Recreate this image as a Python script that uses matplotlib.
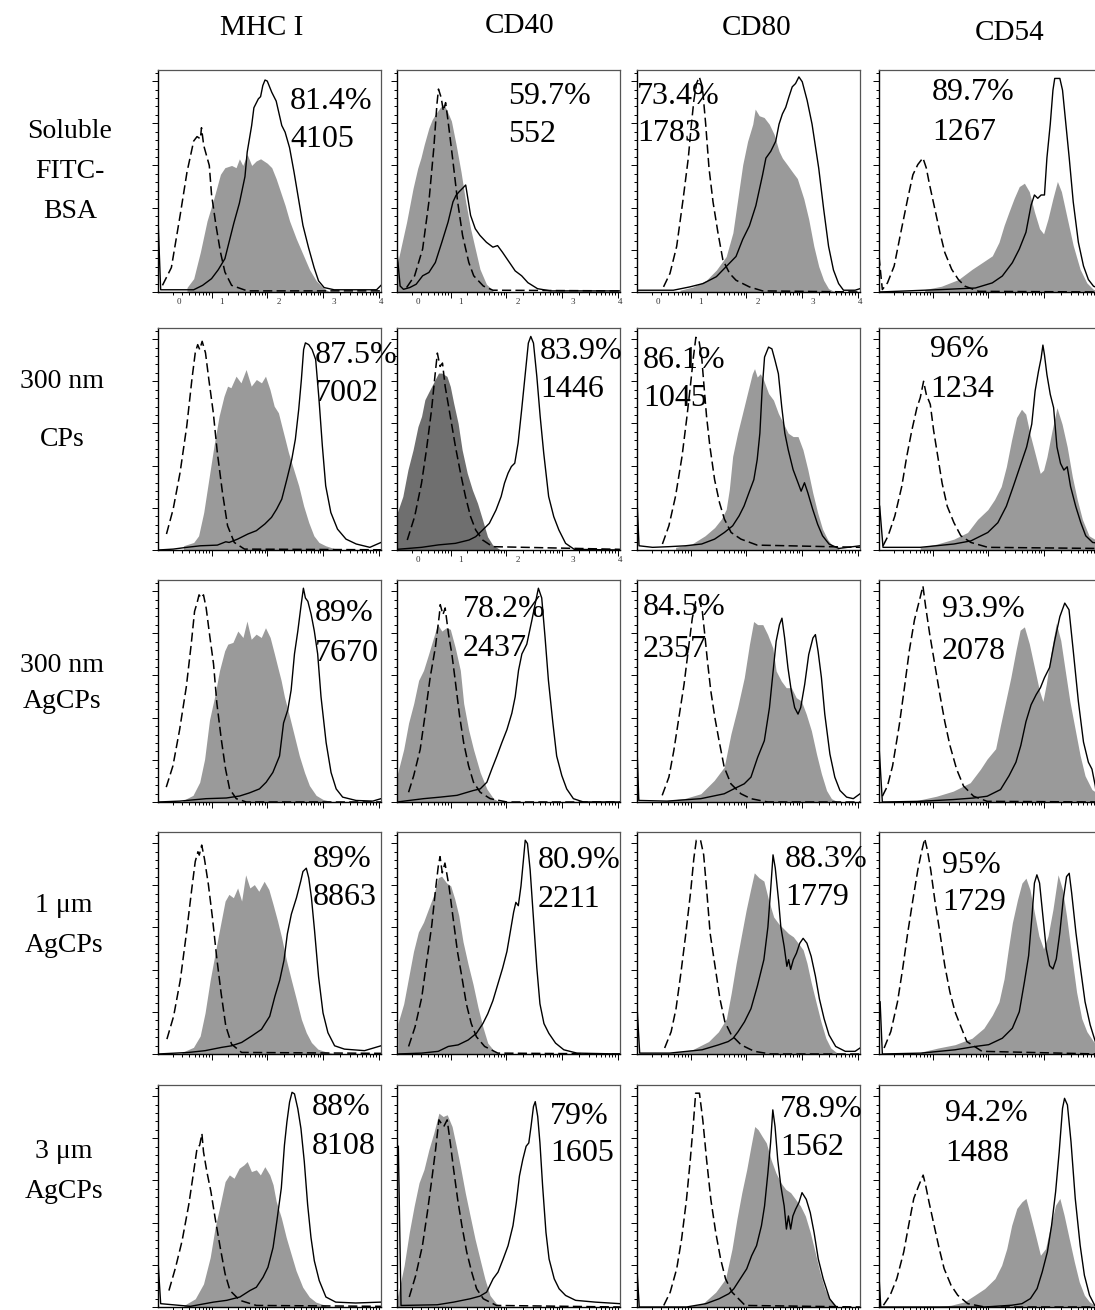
import numpy as np
import matplotlib
matplotlib.use('Agg')
import matplotlib.pyplot as plt
from matplotlib.ticker import MultipleLocator, FixedLocator

plt.rcParams['font.family'] = ['Liberation Serif', 'DejaVu Serif']

# 列标题 / 行标题
markers = ['MHC I', 'CD40', 'CD80', 'CD54']
groups = [['Soluble', 'FITC-', 'BSA'], ['300 nm', 'CPs'], ['300 nm', 'AgCPs'],
          ['1 μm', 'AgCPs'], ['3 μm', 'AgCPs']]

# 阳性百分比 / MFI
pct = [['81.4%', '59.7%', '73.4%', '89.7%'],
       ['87.5%', '83.9%', '86.1%', '96%'],
       ['89%', '78.2%', '84.5%', '93.9%'],
       ['89%', '80.9%', '88.3%', '95%'],
       ['88%', '79%', '78.9%', '94.2%']]
mfi = [['4105', '552', '1783', '1267'],
       ['7002', '1446', '1045', '1234'],
       ['7670', '2437', '2357', '2078'],
       ['8863', '2211', '1779', '1729'],
       ['8108', '1605', '1562', '1488']]

# 直方图数据: x = 荧光强度(面板宽度 %), y = 细胞数(面板高度 %)
# iso = 同型对照(虚线), ctl = 未处理(灰色填充), trt = 处理组(实线)

# --- Soluble FITC-BSA ---
sol_mhc_iso_x = [2, 6, 10, 13, 16, 17.5, 19, 19.5, 20.5, 23, 24, 26, 28, 30, 33, 40, 100]
sol_mhc_iso_y = [3, 11, 35, 54, 68, 70, 69, 74, 66, 57, 44, 30, 18, 9, 3, 0.5, 0.5]
sol_mhc_ctl_x = [13, 16, 19, 22, 25, 28, 30, 33, 35, 36.5, 38, 40, 42, 44, 46, 49, 51, 53, 55, 57, 59, 62, 65, 68, 71, 74, 77]
sol_mhc_ctl_y = [2, 6, 18, 32, 42, 53, 56, 57, 56, 60, 57, 62, 57, 59, 60, 58, 56, 51, 45, 39, 32, 24, 17, 10, 5, 2, 0]
sol_mhc_trt_x = [0, 1.2, 16, 20, 24, 27, 30, 32, 34, 36.5, 39, 40, 42, 43, 45, 46, 47, 48, 49, 51, 53, 55.5, 57, 59, 61, 63, 65, 67.5, 70, 72, 74.5, 79, 98, 100]
sol_mhc_trt_y = [33, 1, 1, 3, 6, 10, 15, 23, 31, 40, 52, 63, 75, 83, 87, 88, 93, 95.5, 95, 90, 86, 75, 72, 65, 54, 42, 30, 20, 11, 5, 2, 1, 1, 3]

sol_cd40_iso_x = [4.3, 7.9, 11.5, 14.3, 16.5, 17.9, 18.6, 19.8, 20.8, 21.8, 22.9, 25.1, 27.2, 29.4, 32.2, 34.4, 38.7, 43, 100]
sol_cd40_iso_y = [2, 7.3, 19.4, 40.6, 64.8, 84.5, 91.4, 87.6, 81.5, 85.3, 77, 58.8, 40.6, 25.5, 13.3, 7.3, 2.7, 0.8, 0.5]
sol_cd40_ctl_x = [0.3, 4.3, 7.2, 9.3, 10.7, 12.2, 14.3, 15.8, 17.2, 19.3, 20.8, 22.2, 24.4, 26.5, 28.7, 30.8, 33, 35.1, 37.2, 40.1, 43]
sol_cd40_ctl_y = [13.3, 31.5, 46.7, 55.8, 60.3, 66.4, 73.9, 77.7, 80, 83, 84.5, 82.3, 77, 66.4, 54.2, 40.6, 28.5, 19.4, 10.3, 3.5, 0.8]
sol_cd40_trt_x = [0, 1.4, 2.9, 5.7, 8.6, 11.5, 14.3, 17.2, 20.1, 22.9, 25.1, 26.5, 27.9, 29.4, 30.8, 33, 35.1, 37.2, 40.1, 43, 45.1, 47.3, 49.4, 50.9, 53, 55.9, 58.7, 63, 68.8, 100]
sol_cd40_trt_y = [17.9, 2.7, 1.2, 2, 3.5, 7.3, 8.8, 13.3, 22.4, 31.5, 40.6, 43.6, 45.2, 46.7, 48.2, 34.5, 28.5, 25.5, 22.4, 20.2, 20.9, 17.9, 14.8, 12.6, 9.5, 7.3, 4.2, 1.5, 0.5, 0.5]

sol_cd80_iso_x = [11.9, 14.8, 17.8, 20.7, 23, 24.4, 25.5, 26.7, 27.9, 28.9, 29.6, 30.8, 32.3, 34.1, 36.3, 38.5, 41.5, 44.4, 50.4, 56.3, 100]
sol_cd80_iso_y = [2.3, 8.4, 20.6, 42, 60.3, 75.6, 86.3, 93.9, 96.9, 93.9, 89.3, 75.6, 55.7, 40.5, 26.7, 14.5, 8.4, 5.3, 2.3, 0.5, 0]
sol_cd80_ctl_x = [19.3, 25.2, 31.1, 35.6, 40, 43, 45.2, 47.4, 49.6, 51.9, 53, 54.8, 57, 59.3, 61.5, 63.7, 65.2, 67.4, 69.6, 71.9, 74.8, 77, 79.3, 81.5, 83.7, 85.9, 88.9]
sol_cd80_ctl_y = [0.8, 2.3, 5.3, 9.9, 16, 26.7, 42, 57.3, 67.9, 75.6, 82.4, 79.4, 78.6, 75.6, 71, 63.4, 60.3, 57.3, 54.2, 51.1, 42, 32.8, 20.6, 11.5, 5.3, 1.5, 0]
sol_cd80_trt_x = [0, 16.3, 23.7, 29.6, 35.6, 38.5, 41.5, 44.4, 47.4, 50.4, 53.3, 56.3, 57.8, 60, 62.2, 63.7, 65.2, 66.7, 68.1, 69.6, 71.1, 72.6, 74.1, 76.3, 78.5, 81.5, 83.7, 85.9, 88.1, 90.4, 92.6, 97.8, 100]
sol_cd80_trt_y = [0.8, 0.8, 2.3, 3.8, 6.9, 9.9, 13, 16, 23.7, 29.8, 38.9, 52.7, 60.3, 63.4, 67.9, 75.6, 80.2, 83.2, 87.8, 92.4, 93.9, 96.9, 94.7, 86.3, 75.6, 55.7, 37.4, 20.6, 9.9, 3.8, 0.8, 0.8, 1.5]

sol_cd54_iso_x = [0, 1.5, 3.8, 6.8, 9.8, 12.9, 15.2, 17.4, 19.7, 21.2, 22.7, 25, 27.3, 29.5, 32.6, 35.6, 38.6, 44.7, 100]
sol_cd54_iso_y = [16, 1.1, 4.1, 11.7, 26.9, 42.2, 52.8, 57.4, 60.4, 55.9, 48.2, 37.6, 26.9, 17.8, 10.2, 5.6, 2.6, 0.3, 0]
sol_cd54_ctl_x = [20.5, 28, 35.6, 41.7, 46.2, 50.8, 53.8, 56.1, 58.3, 60.6, 62.9, 65.2, 67.4, 69.7, 72, 73.8, 75.8, 78, 80, 81.8, 84.1, 87.1, 90.2, 93.2, 96.2, 100]
sol_cd54_ctl_y = [1.1, 2.6, 5.6, 10.2, 13.2, 16.3, 22.4, 30, 36.1, 42.2, 47.5, 49, 45.2, 36.1, 28.5, 26.2, 33, 42.2, 49.8, 45.2, 34.6, 20.9, 10.2, 4.1, 1.1, 0.8]
sol_cd54_trt_x = [0, 28, 43.2, 50.8, 55.3, 59.8, 62.9, 65.9, 68.2, 69.7, 71.2, 72.7, 74.2, 75.3, 76.8, 78, 78.8, 81.1, 82.3, 83.8, 85.3, 87.1, 89.4, 91.7, 93.9, 96.2, 100]
sol_cd54_trt_y = [0, 1.1, 1.8, 4.1, 7.2, 13.2, 19.3, 26.9, 39.1, 43.7, 42.2, 43.7, 43.7, 60.4, 75.6, 90.9, 96.2, 96.2, 90.9, 75.6, 60.4, 40.6, 22.4, 11.7, 5.6, 2.6, 1.1]

# --- 300 nm CPs ---
cp300_mhc_iso_x = [3.8, 6.8, 9.9, 12.9, 15.2, 16.7, 17.8, 18.7, 19.8, 21.3, 22.8, 24.8, 26.6, 28.9, 31.2, 34.2, 38.8, 100]
cp300_mhc_iso_y = [7.2, 18.4, 34.9, 55.8, 76.8, 88.8, 92.5, 90.3, 94, 88.8, 76.8, 61.8, 43.9, 25.9, 10.9, 3.4, 0.4, 0.1]
cp300_mhc_ctl_x = [11.4, 16, 18.2, 20.5, 22.8, 25.1, 27.4, 29.6, 31.2, 32.7, 35, 37.2, 39.5, 41.8, 44.1, 46.4, 48.2, 50.2, 52.1, 54, 55.5, 57, 58.5, 60.8, 63.1, 65.3, 67.6, 69.9, 72.2, 75.2, 79.8]
cp300_mhc_ctl_y = [1.9, 3.4, 6.4, 16.9, 31.9, 46.9, 60.3, 69.3, 73.8, 73.1, 78.3, 75.3, 81.3, 73.8, 76.8, 75.3, 78.3, 72.3, 64.8, 61.8, 55.8, 49.9, 43.9, 36.4, 28.9, 19.9, 12.4, 6.4, 3.4, 1.9, 0.4]
cp300_mhc_trt_x = [0, 6.8, 12.9, 19, 26.6, 30.4, 31.9, 35.7, 40.3, 44.1, 47.9, 50.9, 53.2, 55.5, 57.8, 60, 61.6, 63.1, 64.3, 65.3, 66.1, 67.6, 69.1, 70.7, 72.2, 73.7, 75.2, 77.5, 80.5, 84.3, 88.9, 95, 100]
cp300_mhc_trt_y = [0, 0.4, 1.2, 1.9, 2.2, 3.7, 3.4, 4.9, 7.2, 8.7, 11.7, 14.7, 18.4, 22.9, 31.9, 40.9, 49.9, 63.3, 76.8, 90.3, 93.3, 92.5, 90.3, 85.8, 67.8, 46.9, 28.9, 16.9, 9.4, 4.9, 2.7, 1.2, 3.4]

cp300_cd40_iso_x = [4.6, 7.9, 11, 13.2, 15.5, 17, 18.1, 19.3, 20.4, 21.6, 23.9, 26.2, 28.5, 30.7, 33, 35.3, 38.4, 42.9, 100]
cp300_cd40_iso_y = [4.5, 15, 30.1, 45.1, 63.2, 78.2, 88.7, 82.7, 84.2, 73.7, 60.2, 46.6, 34.6, 24.1, 15, 9, 4.5, 1.5, 0.3]
cp300_cd40_ctl_x = [0, 2.6, 4.9, 7.2, 9.4, 11, 12.5, 14, 16.3, 18.6, 20.1, 22.4, 23.9, 25.4, 27.4, 29.2, 31.5, 33.8, 36.1, 38.4, 40.6, 42.9, 46]
cp300_cd40_ctl_y = [16.5, 24.1, 36.1, 45.1, 55.6, 60.2, 67.7, 70.7, 75.2, 79.7, 79.7, 78.2, 73.7, 66.2, 57.1, 45.1, 34.6, 27.1, 21.1, 13.5, 6, 2.3, 0.3]
cp300_cd40_trt_x = [0, 11, 18.6, 26.2, 32.3, 35.3, 38.4, 41.4, 44.4, 46.7, 48.2, 49.8, 51.3, 52.8, 54.3, 55.9, 57.4, 58.9, 60, 61.2, 62.7, 64.2, 65.8, 68, 70.3, 72.6, 75.6, 79.5, 100]
cp300_cd40_trt_y = [0.3, 1.2, 2.3, 3, 4.5, 6, 9, 12, 18, 24.1, 30.1, 34.6, 37.6, 39.1, 48.1, 63.2, 78.2, 93.2, 96.2, 93.2, 78.2, 60.2, 43.6, 24.1, 15, 9, 3, 0.3, 0]

cp300_cd80_iso_x = [11.4, 14.3, 17.3, 20.2, 22.4, 23.9, 25.3, 26.4, 27.8, 29, 30.2, 31.2, 32.7, 34.8, 37, 39.2, 42.2, 46.6, 53.9, 100]
cp300_cd80_iso_y = [2.7, 10.9, 24.3, 42.2, 60.1, 73.5, 86.9, 95.8, 94.3, 86.9, 72, 60.1, 46.6, 31.7, 21.3, 13.9, 7.9, 4.9, 2.2, 1.2]
cp300_cd80_ctl_x = [17.3, 24.6, 30.5, 34.8, 37.8, 40, 41.4, 42.9, 45.1, 47.3, 49.5, 51.7, 52.7, 53.9, 55.3, 56.8, 59, 61.2, 63.4, 65.6, 67.8, 70, 72.2, 74.4, 76.6, 78.8, 81, 83.2, 85.4, 87.6, 90.5]
cp300_cd80_ctl_y = [1.2, 2.7, 6.4, 10.1, 13.9, 18.3, 27.3, 42.2, 52.6, 61.5, 70.5, 79.4, 81.7, 77.9, 79.4, 76.5, 70.5, 67.5, 61.5, 57.1, 52.6, 51.1, 51.1, 45.2, 36.2, 25.8, 16.8, 9.4, 4.9, 1.9, 0.7]
cp300_cd80_trt_x = [0, 0.9, 7, 14.3, 21.7, 29, 34.8, 39.2, 42.9, 45.8, 48, 50.2, 52.4, 53.9, 55.1, 56.1, 57.2, 59, 60.5, 61.9, 63.4, 64.9, 66.3, 67.8, 70, 72.2, 73.6, 75.1, 76.6, 78.8, 81, 83.2, 86.1, 90.5, 100]
cp300_cd80_trt_y = [22.8, 1.9, 1.2, 1.5, 1.9, 2.7, 4.9, 7.9, 10.9, 15.4, 19.8, 25.8, 31.7, 40.7, 52.6, 72, 86.9, 91.4, 90.6, 85.4, 79.4, 64.5, 52.6, 45.2, 36.2, 30.3, 26.5, 30.3, 25.8, 18.3, 11.6, 6.4, 2.7, 0.7, 1.9]

cp300_cd54_iso_x = [1.8, 4.1, 7.1, 10.2, 12.4, 14.7, 17, 18.5, 20, 21.2, 23, 24.5, 26.4, 28.3, 30.6, 33.6, 36.7, 41.2, 48.8, 98]
cp300_cd54_iso_y = [1.9, 6.4, 15.3, 28.6, 41.9, 53.8, 64.1, 68.6, 76, 70.1, 65.6, 53.8, 41.9, 30.1, 19.7, 12.3, 6.4, 3.4, 1.2, 0.7]
cp300_cd54_ctl_x = [18.5, 26.1, 33.6, 39.7, 44.2, 48.8, 51.8, 54.8, 57.1, 59.4, 61.7, 63.9, 65.8, 67.7, 70, 72.3, 73.8, 75.3, 77.6, 79.8, 82.1, 84.4, 86.7, 88.9, 91.2, 94.2, 98]
cp300_cd54_ctl_y = [1.2, 2.7, 4.9, 7.9, 13.8, 18.2, 22.7, 28.6, 37.5, 49.3, 59.7, 63.4, 61.2, 52.3, 43.4, 34.5, 36, 41.9, 53.8, 64.1, 56.7, 46.4, 33, 22.7, 13.8, 6.4, 4.1]
cp300_cd54_trt_x = [0.3, 1.8, 18.5, 33.6, 41.2, 45.8, 48.8, 53.3, 57.1, 60.2, 63.2, 66.2, 68.5, 70, 71.5, 72.7, 73.5, 74.2, 75.3, 76.8, 78.3, 79.8, 81.4, 82.9, 84.4, 85.9, 88.2, 90.5, 92.7, 95.8, 98]
cp300_cd54_trt_y = [19.7, 1.2, 1.2, 2.7, 4.1, 6.4, 7.9, 12.3, 19.7, 28.6, 37.5, 46.4, 56.7, 71.6, 80.4, 86.4, 92.3, 87.9, 79, 70.1, 64.1, 46.4, 39, 36, 37.5, 28.6, 19.7, 12.3, 6.4, 3.4, 3.1]

# --- 300 nm AgCPs ---
ag300_mhc_iso_x = [3.7, 6.7, 9.7, 12.7, 14.9, 16.4, 17.5, 18.4, 19.4, 20.4, 21.6, 23.1, 24.9, 26.4, 28.4, 30.3, 32.1, 35.1, 39.6, 100]
ag300_mhc_iso_y = [6.7, 16.3, 32.6, 51.9, 71.1, 85.9, 89.6, 93.3, 91.9, 93.3, 87.4, 75.6, 62.2, 44.4, 28.1, 14.8, 5.9, 1.5, 0, 0]
ag300_mhc_ctl_x = [11.2, 15.7, 18.7, 20.9, 23.1, 25.4, 27.6, 29.9, 31.3, 33.6, 35.8, 38.1, 39.9, 41.8, 44, 46.3, 48.2, 50.3, 52.2, 53.7, 55.2, 56.7, 59, 61.2, 63.4, 65.7, 67.9, 70.9, 73.9, 78.4]
ag300_mhc_ctl_y = [0.7, 3, 8.9, 19.3, 37, 47.4, 59.3, 68.1, 71.1, 71.9, 77, 74.1, 81.5, 73.3, 75.6, 74.1, 78.5, 74.1, 66.7, 60.7, 54.8, 47.4, 38.5, 29.6, 20.7, 13.3, 7.4, 3, 1.2, 0]
ag300_mhc_trt_x = [0, 9.7, 21.6, 30.6, 36.6, 41, 45.5, 48.5, 51.5, 54.5, 56.3, 58.2, 59.7, 61.2, 62.7, 64.2, 65.2, 66.1, 67.2, 68.7, 70.1, 71.6, 73.1, 75.4, 77.6, 79.9, 82.8, 88.8, 96.3, 100]
ag300_mhc_trt_y = [0, 0.4, 1.5, 1.8, 2.7, 4.1, 5.9, 8.9, 13.3, 20.7, 35.6, 41.5, 50.4, 66.7, 77, 88.9, 96.3, 91.9, 90.4, 84.4, 77, 66.7, 47.4, 26.7, 13.3, 5.9, 2.2, 0.7, 0.4, 1.5]

ag300_cd40_iso_x = [5.2, 7.5, 10.4, 12.7, 14.9, 17.2, 19, 19.4, 20.6, 21.6, 23.1, 24.6, 26.1, 28.1, 29.9, 32.1, 34.3, 37.3, 41.8, 49.3, 100]
ag300_cd40_iso_y = [4.4, 11.9, 23.7, 40, 56.3, 69.6, 84.4, 88.9, 84.4, 87.4, 75.6, 66.7, 54.8, 38.5, 26.7, 16.3, 8.9, 4.4, 1.5, 0, 0]
ag300_cd40_ctl_x = [0, 3, 5.2, 7.5, 9.7, 11.9, 14.2, 16.4, 18.2, 20.1, 22.1, 23.9, 26.1, 28.4, 29.9, 32.1, 34.3, 37.3, 40.3, 43.3, 46.3]
ag300_cd40_ctl_y = [11.9, 23.7, 35.6, 44.4, 54.8, 59.3, 66.7, 74.1, 80, 77, 78.5, 77.8, 69.6, 59.3, 44.4, 32.6, 23.7, 13.3, 5.9, 1.5, 0]
ag300_cd40_trt_x = [0, 11.9, 19.4, 26.9, 34.3, 37.3, 40.3, 42.5, 44.8, 47, 49.3, 51.5, 53, 54.5, 56, 58.2, 60.4, 61.9, 63.4, 64.9, 66.4, 67.9, 69.9, 71.6, 73.9, 76.1, 79.1, 83.6, 100]
ag300_cd40_trt_y = [0, 1.5, 2.2, 3, 5.2, 5.9, 8.9, 14.8, 20.7, 26.7, 32.6, 40, 47.4, 59.3, 66.7, 71.1, 81.5, 88.9, 96.3, 91.9, 74.1, 54.8, 35.6, 20.7, 11.9, 5.9, 1.5, 0, 0]

ag300_cd80_iso_x = [11.3, 14.3, 16.5, 18.8, 21.1, 23.3, 24.8, 26.3, 27.8, 29.3, 30.4, 31.6, 33.1, 34.9, 36.8, 39.1, 42.1, 46.6, 51.1, 58.6, 100]
ag300_cd80_iso_y = [3, 11.2, 23.1, 38.1, 53, 70.9, 82.8, 90.3, 91.8, 85.8, 75.4, 63.4, 50, 38.1, 27.6, 15.7, 8.2, 3.7, 1.5, 0, 0]
ag300_cd80_ctl_x = [13.5, 21.1, 28.6, 34.6, 39.1, 42.1, 45.1, 48.1, 50.4, 52.3, 54.1, 56.4, 58.6, 60.9, 62.4, 64.7, 66.9, 69.2, 71.4, 73.7, 75.9, 78.2, 80.5, 82.7, 85, 87.2, 90.2]
ag300_cd80_ctl_y = [0.7, 1.5, 3.7, 9.7, 15.7, 30.6, 42.5, 56, 70.9, 81.3, 79.9, 79.9, 75.4, 69.4, 59, 54.5, 51.5, 51.5, 47, 45.5, 39.6, 32.1, 21.6, 12.7, 5.2, 1.5, 0]
ag300_cd80_trt_x = [0, 0.8, 13.5, 28.6, 39.1, 43.6, 48.1, 51.1, 54.1, 57.1, 59.4, 60.9, 62.4, 63.9, 65, 66.2, 67.7, 69.2, 70.7, 72.2, 73.4, 75.2, 77, 78.9, 80, 81.2, 82.7, 84.2, 86.5, 88.7, 91, 94, 97, 100]
ag300_cd80_trt_y = [24.6, 0.7, 0.4, 1.5, 3.7, 6, 8.2, 11.2, 20.1, 27.6, 42.5, 57.5, 72.4, 79.9, 82.8, 73.9, 60.4, 50, 42.5, 39.6, 42.5, 53, 66.4, 73.9, 75.4, 67.9, 56, 39.6, 21.6, 11.2, 5.2, 2.2, 1.5, 3.7]

ag300_cd54_iso_x = [1.5, 3.8, 6.1, 9.1, 11.4, 13.6, 15.9, 18.2, 19.7, 20.9, 22.7, 25, 27.3, 29.5, 31.8, 34.8, 37.9, 42.4, 48.5, 97.7]
ag300_cd54_iso_y = [2.6, 7.2, 16.3, 34.7, 51.5, 68.2, 82, 91.1, 97.3, 88.1, 75.9, 62.1, 48.4, 36.2, 25.5, 14.8, 7.2, 2.6, 0.3, 0]
ag300_cd54_ctl_x = [15.2, 25.8, 33.3, 40.9, 45.5, 48.5, 52.3, 54.5, 56.8, 59.1, 61.4, 63.3, 65.2, 67.4, 69.7, 72, 73.5, 75, 77.3, 79.5, 81.5, 83.3, 85.6, 87.9, 90.2, 92.4, 95.5, 97.7]
ag300_cd54_ctl_y = [0.3, 2.6, 4.9, 8.7, 14.8, 19.4, 24, 34.7, 45.3, 56, 68.2, 77.4, 78.9, 71.3, 60.6, 49.9, 45.3, 53, 68.2, 80.5, 72.8, 60.6, 45.3, 33.1, 20.9, 11.8, 5.6, 4.1]
ag300_cd54_trt_x = [0, 1.5, 18.2, 33.3, 42.4, 48.5, 54.5, 58.3, 61.4, 63.6, 65.9, 68.2, 70.5, 72.4, 74.2, 76.5, 78.8, 81.1, 83.3, 85.2, 87.1, 89.4, 91.7, 93.9, 95.5, 97, 97.7]
ag300_cd54_trt_y = [25.5, 0, 0.3, 1.1, 1.8, 2.6, 5.6, 11.8, 17.9, 25.5, 36.2, 43.8, 48.4, 51.5, 56, 60.6, 72.8, 83.5, 89.6, 86.6, 68.2, 45.3, 27, 17.9, 14.8, 7.2, 1.1]

# --- 1 μm AgCPs ---
ag1_mhc_iso_x = [4, 7, 10, 12.9, 15.2, 16.7, 17.9, 18.5, 19.6, 20.8, 22.6, 24.4, 26.3, 28.3, 30.4, 33, 37.5, 100]
ag1_mhc_iso_y = [6.7, 17, 33.3, 55.6, 74.8, 86.7, 91.1, 89.6, 94.1, 88.1, 76.3, 61.5, 43.7, 27.4, 12.6, 4.4, 0.7, 0.3]
ag1_mhc_ctl_x = [10.7, 15.9, 18.9, 21.1, 23.4, 25.6, 27.8, 30.1, 31.8, 33.8, 35.7, 37.5, 39.3, 41.2, 43.2, 45.2, 47.6, 49.7, 51.6, 53.6, 55.4, 57.6, 59.8, 62.1, 64.3, 66.5, 68.8, 71.7, 76.2, 80.7]
ag1_mhc_ctl_y = [0.7, 3, 8.1, 18.5, 33.3, 45.2, 57, 68.9, 71.9, 70.4, 74.8, 68.9, 80.7, 74.8, 76.3, 73.3, 77.8, 74.1, 67.4, 60, 52.6, 42.2, 33.3, 24.4, 15.6, 9.6, 5.2, 2.2, 0.7, 0]
ag1_mhc_trt_x = [0, 13.7, 21.1, 28.6, 33, 37.5, 42, 46.4, 50.1, 52.4, 54.6, 56.5, 58, 59.8, 62.1, 64, 65, 66.5, 67.6, 68.8, 70.2, 72, 74, 76.2, 79.2, 83.6, 92.6, 100]
ag1_mhc_trt_y = [0, 0.7, 1.5, 3, 3.7, 5.2, 8.1, 11.1, 17, 25.9, 33.3, 42.2, 54.1, 63, 70.4, 77.8, 82.2, 83.7, 79.3, 70.4, 55.6, 34.8, 18.5, 9.6, 3.7, 2.2, 1.5, 3.7]

ag1_cd40_iso_x = [5.2, 8.1, 11.1, 13.3, 15.6, 17.3, 18.5, 19.3, 20.3, 21.5, 23.3, 25.2, 27.1, 28.9, 31.1, 33.3, 35.6, 39.3, 45.2, 100]
ag1_cd40_iso_y = [3.4, 12.2, 25.5, 41.7, 58, 74.2, 84.5, 88.9, 81.6, 86, 75.7, 60.9, 46.2, 35.8, 22.6, 13.7, 7.8, 3.4, 0.4, 0]
ag1_cd40_ctl_x = [0.4, 3, 5.2, 7.4, 9.6, 11.9, 14.1, 16.3, 18.5, 20, 22.2, 24.1, 25.9, 27.7, 29.6, 31.9, 34.1, 36.3, 38.5, 40.7, 43.7, 46.7]
ag1_cd40_ctl_y = [13.7, 22.6, 34.4, 46.2, 55, 59.4, 65.3, 71.2, 79.4, 80.1, 77.1, 75.7, 69.8, 62.4, 50.6, 40.3, 31.4, 21.1, 12.2, 4.9, 1.2, 0]
ag1_cd40_trt_x = [0, 11.1, 18.5, 23, 27.4, 31.9, 35.6, 38.5, 40.7, 43, 45.2, 47.4, 49.3, 50.8, 52.3, 53.3, 54.4, 55.6, 56.7, 57.5, 58.5, 59.7, 61.2, 62.7, 64.1, 65.9, 68.1, 71.1, 74.8, 80.7, 100]
ag1_cd40_trt_y = [0, 0.4, 1.2, 3.4, 4.1, 6.3, 9.3, 13.7, 18.1, 24, 31.4, 38.8, 46.2, 55, 63.9, 68.3, 66.8, 75.7, 87.5, 96.3, 94.8, 83, 60.9, 38.8, 22.6, 13.7, 9.3, 4.9, 1.9, 0.4, 0]

ag1_cd80_iso_x = [12.4, 15.3, 17.5, 19.7, 21.9, 24.1, 25.5, 26.6, 28.5, 29.9, 31.4, 32.8, 35, 37.2, 39.4, 42.3, 46.7, 52.6, 59.9, 100]
ag1_cd80_iso_y = [2.7, 10, 20.4, 36.6, 54.3, 73.5, 88.2, 96.3, 96.3, 89.7, 72, 54.3, 39.5, 24.8, 14.5, 8.6, 4.1, 1.2, 0, 0]
ag1_cd80_ctl_x = [14.6, 24.8, 32.1, 36.5, 40.1, 42.3, 44.5, 46.7, 48.9, 50.8, 52.6, 54.7, 56.9, 59.1, 61.3, 63.5, 65.7, 67.9, 70.1, 72.3, 74.5, 76.2, 78.1, 80.3, 82.5, 84.7, 86.9, 89.8]
ag1_cd80_ctl_y = [0.4, 1.9, 5.6, 10, 15.9, 27.7, 41, 52.8, 64.6, 73.5, 81.6, 79.4, 77.9, 69, 61.7, 58.7, 56.5, 54.3, 52.8, 49.9, 46.9, 41, 32.2, 23.3, 14.5, 7.1, 2.7, 0.4]
ag1_cd80_trt_x = [0, 1.2, 14.6, 29.2, 36.5, 40.9, 43.1, 45.3, 48.2, 51.1, 54, 56.9, 58.7, 59.9, 61, 62, 63.5, 64.5, 66, 67.2, 68, 68.9, 70.1, 71.5, 73, 74.5, 76.2, 78.1, 80, 81.8, 83.9, 86.1, 89.1, 93.4, 97.8, 100]
ag1_cd80_trt_y = [21.8, 0.4, 0.4, 1.9, 4.1, 5.6, 7.1, 10, 14.5, 20.4, 30.7, 42.5, 57.2, 73.5, 89.7, 83.8, 69, 57.2, 48.4, 39.5, 42.5, 38.1, 42.5, 45.4, 49.9, 52.1, 49.9, 44, 35.1, 24.8, 15.9, 8.6, 3.4, 1.2, 1.2, 2.7]

ag1_cd54_iso_x = [2.3, 5.3, 8.3, 10.6, 12.9, 15.2, 17.4, 18.9, 20.5, 21.7, 23.2, 25, 27.3, 29.5, 31.8, 34.1, 36.4, 39.4, 46.2, 98.5]
ag1_cd54_iso_y = [2.7, 10.1, 23.5, 38.3, 54.7, 69.5, 82.9, 90.3, 97, 91.8, 82.9, 69.5, 54.7, 39.8, 27.9, 19, 13.1, 5.6, 1.2, 0]
ag1_cd54_ctl_x = [18.9, 26.5, 34.1, 41.7, 47, 50.8, 53.8, 56.1, 58, 59.8, 62.1, 64.1, 65.9, 67.7, 69.7, 71.7, 73.8, 75.8, 78, 80.3, 82.3, 84.1, 86.4, 88.6, 90.9, 93.2, 96.2, 98.5]
ag1_cd54_ctl_y = [0.9, 2.7, 4.2, 7.1, 11.6, 17.5, 23.5, 33.9, 47.3, 59.1, 69.5, 77, 79.2, 74, 63.6, 53.2, 47.3, 53.2, 65.1, 80.7, 74, 62.1, 44.3, 27.9, 16, 10.1, 5.6, 4.2]
ag1_cd54_trt_x = [0.5, 1.5, 18.9, 34.1, 43.2, 49.2, 55.3, 59.8, 62.9, 65.2, 67.1, 68.6, 69.7, 70.8, 72, 73.5, 75, 76.5, 78, 79.5, 81.1, 82.6, 84.1, 85.3, 86.4, 88.3, 90.2, 92.4, 94.7, 97, 98.5]
ag1_cd54_trt_y = [23.5, 0, 0.4, 1.9, 3.4, 4.2, 7.1, 11.6, 19, 32.4, 44.3, 62.1, 77, 80.7, 77, 62.1, 47.3, 39.8, 38.3, 42.8, 54.7, 69.5, 79.9, 81.4, 72.5, 54.7, 39.8, 23.5, 13.1, 5.6, 2.7]

# --- 3 μm AgCPs ---
ag3_mhc_iso_x = [4.9, 7.9, 10.8, 13.8, 16, 17.5, 18.7, 19.7, 20.4, 21.9, 23.7, 25.6, 27.9, 30.1, 32.3, 36.7, 44.1, 100]
ag3_mhc_iso_y = [7.4, 17.9, 29.8, 46.1, 61, 71.4, 72.9, 78.1, 69.9, 61, 52.1, 40.2, 26.8, 14.9, 7.4, 3, 0.7, 0.3]
ag3_mhc_ctl_x = [11.6, 16.7, 20.4, 23.4, 25.6, 27.9, 30.1, 32, 34.1, 36.4, 38.5, 40, 41.9, 44.1, 45.9, 47.9, 50.1, 51.6, 53, 55.3, 57.5, 59.7, 61.9, 64.9, 67.9, 70.8, 75.3]
ag3_mhc_ctl_y = [0.7, 3.7, 10.4, 22.3, 35.7, 46.1, 56.5, 59.5, 58, 62.5, 64, 65.5, 61, 61.8, 59.5, 63.2, 59.5, 55.1, 47.6, 40.2, 31.3, 23.8, 16.4, 8.9, 4.5, 2.2, 0.7]
ag3_mhc_trt_x = [0, 1.2, 14.5, 24.9, 30.8, 36.7, 41.2, 44.1, 47.1, 49.3, 51.6, 53.3, 55.3, 56.7, 57.8, 59, 60.1, 61.2, 62.7, 64.1, 65.6, 67.1, 68.6, 70.1, 72.3, 75.3, 79.7, 88.6, 100]
ag3_mhc_trt_y = [20.8, 1.5, 0.3, 2.2, 3, 4.5, 7.4, 8.9, 13.4, 17.9, 26.8, 38.7, 53.6, 72.9, 83.3, 92.3, 96.7, 96, 89.3, 80.4, 65.5, 46.1, 31.3, 20.8, 11.9, 4.5, 2.2, 1.8, 2.2]

ag3_cd40_iso_x = [5.5, 8.4, 11.4, 13.6, 15.8, 17.3, 18.8, 19.8, 21, 22.5, 23.9, 25.4, 27.2, 29.1, 31.3, 33.5, 35.7, 38.7, 44.6, 100]
ag3_cd40_iso_y = [4.5, 14.2, 27.6, 42.5, 59, 70.9, 84.3, 82.8, 81.3, 84.3, 73.9, 61.9, 48.5, 36.6, 24.6, 15.7, 8.2, 3.7, 0.7, 0]
ag3_cd40_ctl_x = [0, 1, 3.2, 5.5, 7.7, 9.9, 12.1, 14.3, 16.5, 18.8, 20.7, 22.5, 24.7, 26.6, 28.4, 30.6, 32.8, 35, 37.2, 39.4, 41.7, 44.6, 47.6]
ag3_cd40_ctl_y = [3.7, 8.2, 18.7, 33.6, 45.5, 56, 61.9, 70.9, 78.4, 87.3, 85.8, 86.6, 81.3, 72.4, 63.4, 51.5, 41, 30.6, 21.6, 12.7, 5.2, 1.5, 0]
ag3_cd40_trt_x = [0.6, 1.8, 18, 25.4, 32.8, 37.2, 40.2, 43.1, 45.3, 47.6, 49.8, 52, 53.5, 54.9, 56.4, 57.9, 59.1, 60.1, 61.2, 62, 63.1, 64.1, 65.3, 66.8, 68.2, 70.5, 72.7, 75.6, 80.1, 88.9, 100]
ag3_cd40_trt_y = [72.4, 0.7, 1, 2.2, 3.7, 4.9, 6.7, 12.7, 15.7, 21.6, 27.6, 36.6, 47, 59, 66.4, 72.4, 73.9, 81.3, 90.3, 92.5, 85.8, 73.9, 54.5, 33.6, 21.6, 12.7, 8.2, 5.2, 3, 2.2, 1.5]

ag3_cd80_iso_x = [12, 14.9, 17.8, 20, 22.2, 23.9, 25.4, 26.3, 28, 29.5, 31.2, 33.1, 35.3, 37.5, 39.7, 42.6, 48.5, 100]
ag3_cd80_iso_y = [0.7, 6.7, 17.2, 30.6, 48.5, 66.4, 84.3, 96.3, 96.3, 84.3, 66.4, 48.5, 33.6, 21.6, 12.7, 6.7, 0.7, 0]
ag3_cd80_ctl_x = [22.2, 29.5, 35.3, 39.7, 42.6, 44.8, 47, 49.2, 51.1, 52.8, 54.3, 56.1, 58, 60.1, 62.3, 64.5, 66.7, 68.9, 71.1, 73.3, 75.5, 77.7, 79.9, 82, 84.2, 86.4, 89.3]
ag3_cd80_ctl_y = [0, 1.5, 6.7, 12.7, 26.1, 39.6, 51.5, 61.9, 72.4, 81.3, 79.9, 76.9, 73.9, 66.4, 60.4, 56, 53, 51.5, 48.5, 45.5, 41, 33.6, 24.6, 15.7, 8.2, 3.7, 0.7]
ag3_cd80_trt_x = [0, 1, 22.2, 30.9, 36.8, 41.2, 43.4, 46.3, 49.2, 51.4, 53.6, 55.8, 57.2, 58.7, 59.9, 60.9, 61.9, 63.1, 64.5, 66, 67, 67.9, 68.9, 69.9, 71.1, 72.6, 74, 75.9, 77.7, 79.4, 81.3, 83.5, 86.4, 89.3]
ag3_cd80_trt_y = [17.2, 0, 0, 1.5, 3.7, 6, 8.2, 12.7, 17.2, 23.1, 27.6, 36.6, 45.5, 60.4, 73.9, 88.8, 81.3, 66.4, 54.5, 45.5, 35.1, 41, 35.1, 41, 44, 47, 51.5, 48.5, 42.5, 33.6, 21.6, 12.7, 3.7, 0]

ag3_cd54_iso_x = [2, 5, 8, 11.1, 13.3, 15.6, 17.9, 19.8, 20.9, 22.4, 24.7, 27, 29.2, 32.3, 35.3, 39.8, 47.4, 96.7]
ag3_cd54_iso_y = [0.8, 5.3, 12.8, 24.8, 36.8, 48.9, 54.9, 59.4, 54.9, 47.4, 36.8, 26.3, 17.3, 9.8, 5.3, 1.5, 0, 0]
ag3_cd54_ctl_x = [24.7, 32.3, 38.3, 42.9, 47.4, 52, 55, 57.3, 59.5, 61.8, 64.1, 65.9, 67.9, 70.2, 72.4, 74.7, 77, 79.2, 81.1, 83, 85.3, 87.6, 89.8, 92.1, 94.4, 96.7]
ag3_cd54_ctl_y = [0, 0.8, 2.3, 5.3, 8.3, 12.8, 18.8, 26.3, 36.8, 44.4, 47.4, 48.9, 41.4, 32.3, 23.3, 26.3, 36.8, 45.9, 48.9, 41.4, 30.8, 20.3, 11.3, 5.3, 2.3, 0.8]
ag3_cd54_trt_x = [0, 0.8, 32.3, 47.4, 55, 59.5, 64.1, 67.9, 70.9, 73.2, 75.5, 77.4, 79.2, 80.8, 82.3, 83.2, 84.5, 86.1, 88, 90.2, 92.1, 94.4, 96.7]
ag3_cd54_trt_y = [14, 0, 0, 0, 0.5, 0.8, 1.5, 3.8, 8.3, 15.8, 24.8, 36.8, 51.9, 69.9, 89.5, 94, 91, 74.4, 48.9, 27.8, 14.3, 5.3, 0.8]

curves = [
    [(sol_mhc_iso_x, sol_mhc_iso_y, sol_mhc_ctl_x, sol_mhc_ctl_y, sol_mhc_trt_x, sol_mhc_trt_y),
     (sol_cd40_iso_x, sol_cd40_iso_y, sol_cd40_ctl_x, sol_cd40_ctl_y, sol_cd40_trt_x, sol_cd40_trt_y),
     (sol_cd80_iso_x, sol_cd80_iso_y, sol_cd80_ctl_x, sol_cd80_ctl_y, sol_cd80_trt_x, sol_cd80_trt_y),
     (sol_cd54_iso_x, sol_cd54_iso_y, sol_cd54_ctl_x, sol_cd54_ctl_y, sol_cd54_trt_x, sol_cd54_trt_y)],
    [(cp300_mhc_iso_x, cp300_mhc_iso_y, cp300_mhc_ctl_x, cp300_mhc_ctl_y, cp300_mhc_trt_x, cp300_mhc_trt_y),
     (cp300_cd40_iso_x, cp300_cd40_iso_y, cp300_cd40_ctl_x, cp300_cd40_ctl_y, cp300_cd40_trt_x, cp300_cd40_trt_y),
     (cp300_cd80_iso_x, cp300_cd80_iso_y, cp300_cd80_ctl_x, cp300_cd80_ctl_y, cp300_cd80_trt_x, cp300_cd80_trt_y),
     (cp300_cd54_iso_x, cp300_cd54_iso_y, cp300_cd54_ctl_x, cp300_cd54_ctl_y, cp300_cd54_trt_x, cp300_cd54_trt_y)],
    [(ag300_mhc_iso_x, ag300_mhc_iso_y, ag300_mhc_ctl_x, ag300_mhc_ctl_y, ag300_mhc_trt_x, ag300_mhc_trt_y),
     (ag300_cd40_iso_x, ag300_cd40_iso_y, ag300_cd40_ctl_x, ag300_cd40_ctl_y, ag300_cd40_trt_x, ag300_cd40_trt_y),
     (ag300_cd80_iso_x, ag300_cd80_iso_y, ag300_cd80_ctl_x, ag300_cd80_ctl_y, ag300_cd80_trt_x, ag300_cd80_trt_y),
     (ag300_cd54_iso_x, ag300_cd54_iso_y, ag300_cd54_ctl_x, ag300_cd54_ctl_y, ag300_cd54_trt_x, ag300_cd54_trt_y)],
    [(ag1_mhc_iso_x, ag1_mhc_iso_y, ag1_mhc_ctl_x, ag1_mhc_ctl_y, ag1_mhc_trt_x, ag1_mhc_trt_y),
     (ag1_cd40_iso_x, ag1_cd40_iso_y, ag1_cd40_ctl_x, ag1_cd40_ctl_y, ag1_cd40_trt_x, ag1_cd40_trt_y),
     (ag1_cd80_iso_x, ag1_cd80_iso_y, ag1_cd80_ctl_x, ag1_cd80_ctl_y, ag1_cd80_trt_x, ag1_cd80_trt_y),
     (ag1_cd54_iso_x, ag1_cd54_iso_y, ag1_cd54_ctl_x, ag1_cd54_ctl_y, ag1_cd54_trt_x, ag1_cd54_trt_y)],
    [(ag3_mhc_iso_x, ag3_mhc_iso_y, ag3_mhc_ctl_x, ag3_mhc_ctl_y, ag3_mhc_trt_x, ag3_mhc_trt_y),
     (ag3_cd40_iso_x, ag3_cd40_iso_y, ag3_cd40_ctl_x, ag3_cd40_ctl_y, ag3_cd40_trt_x, ag3_cd40_trt_y),
     (ag3_cd80_iso_x, ag3_cd80_iso_y, ag3_cd80_ctl_x, ag3_cd80_ctl_y, ag3_cd80_trt_x, ag3_cd80_trt_y),
     (ag3_cd54_iso_x, ag3_cd54_iso_y, ag3_cd54_ctl_x, ag3_cd54_ctl_y, ag3_cd54_trt_x, ag3_cd54_trt_y)],
]

# 版面 (像素)
FIG_W, FIG_H = 1095, 1310
COL_LEFT = [158, 397, 637, 879]
ROW_TOP = [70, 328, 580, 832, 1085]
PANEL_W, PANEL_H = 223, 222
HEADER_XY = [(262, 35), (520, 33), (757, 35), (1010, 40)]
ROW_LABEL_X = [70, 62, 62, 64, 64]
ROW_LABEL_Y = [[132, 172, 212], [381, 440], [665, 702], [905, 945], [1152, 1192]]
PCT_XY = [[(290, 98), (508, 93), (637, 93), (932, 89)],
          [(315, 352), (540, 348), (643, 357), (930, 346)],
          [(315, 610), (463, 606), (643, 604), (942, 606)],
          [(313, 856), (538, 857), (785, 856), (942, 862)],
          [(312, 1104), (550, 1113), (780, 1106), (945, 1110)]]
MFI_Y = [[136, 131, 130, 129],
         [390, 386, 395, 386],
         [650, 645, 646, 648],
         [894, 896, 894, 899],
         [1143, 1150, 1144, 1150]]
DECADES = [24, 49, 74, 99]
LABELED = [(0, 0), (0, 1), (0, 2), (1, 1)]
EXP_POS = [9.5, 28.5, 54, 79, 100]

ANNOT_SIZE = 23
BASE_SHIFT = 0.338 * ANNOT_SIZE * 100 / 72   # 数字视觉中心 -> 基线


def fx(px):
    return px / FIG_W


def fy(py):
    return 1 - py / FIG_H


fig = plt.figure(figsize=(FIG_W / 100, FIG_H / 100), dpi=100)

minor_x = []
for d in DECADES:
    for m in range(2, 10):
        minor_x.append(d - 25 + 25 * np.log10(m))

for r in range(5):
    for c in range(4):
        ax = fig.add_axes([fx(COL_LEFT[c]), fy(ROW_TOP[r] + PANEL_H),
                           PANEL_W / FIG_W, PANEL_H / FIG_H])
        iso_x, iso_y, ctl_x, ctl_y, trt_x, trt_y = curves[r][c]
        fill_color = '#6f6f6f' if (r, c) == (1, 1) else '#9a9a9a'
        ax.fill_between(ctl_x, ctl_y, 0, color=fill_color, lw=0, zorder=1)
        ax.plot(iso_x, iso_y, color='black', lw=1.1, dashes=(6, 2.8), zorder=2)
        ax.plot(trt_x, trt_y, color='black', lw=1.0, zorder=3)

        ax.set_xlim(0, 100)
        ax.set_ylim(0, 100)
        ax.yaxis.set_major_locator(MultipleLocator(19))
        ax.yaxis.set_minor_locator(MultipleLocator(3.8))
        ax.xaxis.set_major_locator(FixedLocator(DECADES))
        ax.xaxis.set_minor_locator(FixedLocator(minor_x))
        ax.tick_params(which='both', direction='out', labelleft=False, labelbottom=False,
                       top=False, right=False, width=0.7)
        ax.tick_params(which='major', length=4)
        ax.tick_params(which='minor', length=2)
        for side in ['left', 'bottom']:
            ax.spines[side].set_color('black')
            ax.spines[side].set_linewidth(1.0)
        for side in ['top', 'right']:
            ax.spines[side].set_color('#555555')
            ax.spines[side].set_linewidth(0.9)

        if (r, c) in LABELED:
            for k, xp in enumerate(EXP_POS):
                ax.text(xp, -2.5, str(k), fontsize=6.5, color='#333333',
                        ha='center', va='top', transform=ax.transData)

        px, py = PCT_XY[r][c]
        fig.text(fx(px), fy(py + BASE_SHIFT), pct[r][c], fontsize=ANNOT_SIZE,
                 ha='left', va='baseline')
        fig.text(fx(px), fy(MFI_Y[r][c] + BASE_SHIFT), mfi[r][c], fontsize=ANNOT_SIZE,
                 ha='left', va='baseline')

for (hx, hy), name in zip(HEADER_XY, markers):
    fig.text(fx(hx), fy(hy), name, fontsize=21, ha='center', va='baseline')

for r in range(5):
    for line, ly in zip(groups[r], ROW_LABEL_Y[r]):
        fig.text(fx(ROW_LABEL_X[r]), fy(ly), line, fontsize=20, ha='center', va='center')

plt.savefig('out.png', dpi=100)
plt.close()
